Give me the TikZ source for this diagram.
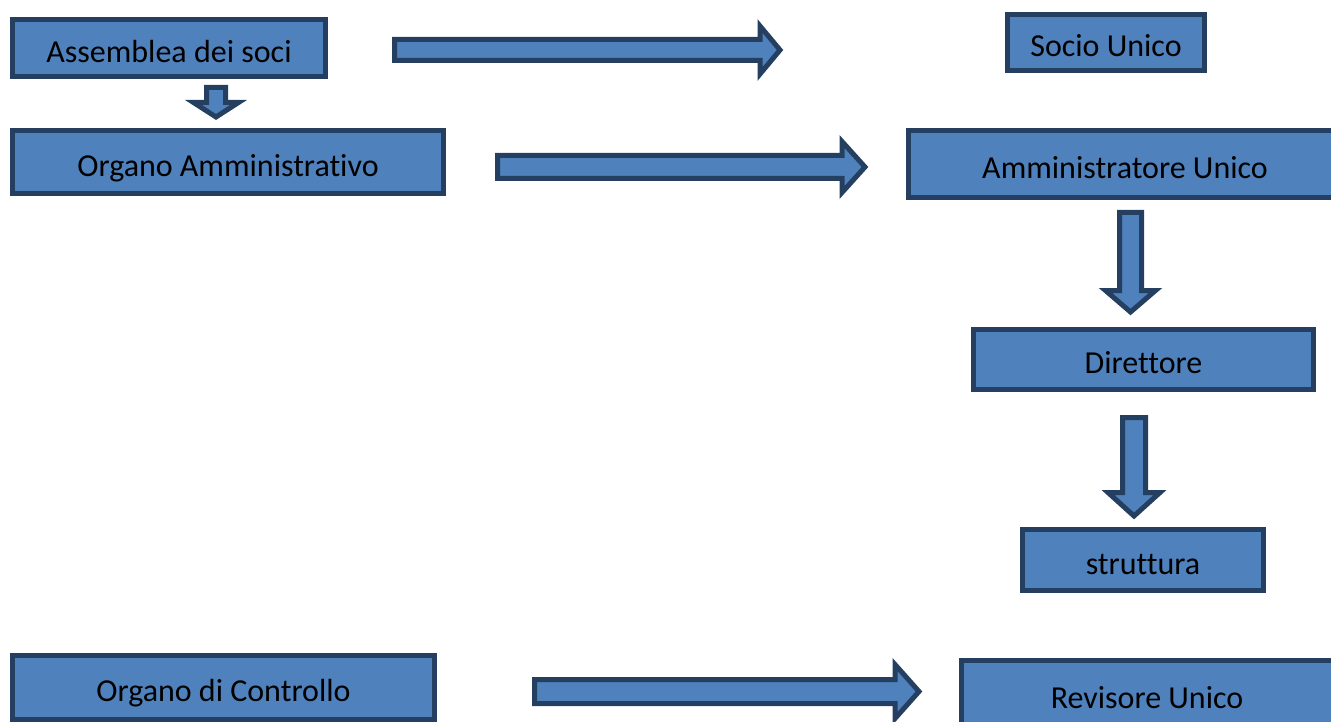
\documentclass[tikz,border=0pt]{standalone}
\usepackage{fontspec}
\setmainfont{Carlito}[Ligatures={NoCommon}]
\usetikzlibrary{calc}
\definecolor{boxfill}{HTML}{4F81BD}
\definecolor{boxline}{HTML}{243F60}
\tikzset{
  orgbox/.style={draw=boxline, fill=boxfill, line width=5pt, rectangle,
    inner sep=0pt, font=\fontsize{32}{36}\selectfont, text=black,
    text height=30pt, text depth=1.4pt},
  blockarrow/.style={draw=boxline, fill=boxfill, line width=5pt, line join=miter}
}
% horizontal block arrow: start, tip, shaft half, head half, head length
\newcommand{\hblockarrow}[5]{%
  \draw[blockarrow] ($(#1)+(0,-#3)$) -- ($(#2)+(-#5,-#3)$) -- ($(#2)+(-#5,-#4)$) -- (#2)
    -- ($(#2)+(-#5,#4)$) -- ($(#2)+(-#5,#3)$) -- ($(#1)+(0,#3)$) -- cycle;}
% vertical (downward) block arrow
\newcommand{\vblockarrow}[5]{%
  \draw[blockarrow] ($(#1)+(-#3,0)$) -- ($(#2)+(-#3,-#5)$) -- ($(#2)+(-#4,-#5)$) -- (#2)
    -- ($(#2)+(#4,-#5)$) -- ($(#2)+(#3,-#5)$) -- ($(#1)+(#3,0)$) -- cycle;}
\begin{document}
\begin{tikzpicture}[x=1pt, y=-1pt]
\useasboundingbox (0,0) rectangle (1331,722);
\clip (0,0) rectangle (1331,722);

\node[orgbox, minimum width=313pt, minimum height=57pt] (ass) at (169,48) {Assemblea dei soci};
\node[orgbox, minimum width=431pt, minimum height=63pt] (oamm) at (228,162) {Organo Amministrativo};
\node[orgbox, minimum width=197pt, minimum height=56pt] (socio) at (1106,42.5) {Socio Unico};
\node[orgbox, minimum width=433pt, minimum height=67pt] (amu) at (1125,164) {Amministratore Unico};
\node[orgbox, minimum width=340pt, minimum height=60pt] (dir) at (1143.5,359.5) {Direttore};
\node[orgbox, minimum width=241pt, minimum height=61pt] (str) at (1143,560) {struttura};
\node[orgbox, minimum width=422pt, minimum height=64pt] (octrl) at (223.5,687.5) {Organo di Controllo};
\node[orgbox, minimum width=372pt, minimum height=67pt] (rev) at (1147,694) {Revisore Unico};

% arrow end points
\coordinate (a1s) at (394.5,50);   \coordinate (a1e) at (780,50);
\coordinate (a0s) at (216,87.5);   \coordinate (a0e) at (216,117);
\coordinate (a2s) at (497.5,167);  \coordinate (a2e) at (865,167);
\coordinate (a4s) at (1130.5,212.5); \coordinate (a4e) at (1130.5,312);
\coordinate (a5s) at (1134,417.5); \coordinate (a5e) at (1134,516);
\coordinate (a3s) at (534.5,691.5); \coordinate (a3e) at (919,691.5);

\hblockarrow{a1s}{a1e}{10.5}{24}{20}
\vblockarrow{a0s}{a0e}{9.5}{22.5}{14.5}
\hblockarrow{a2s}{a2e}{11.5}{25.5}{23}
\vblockarrow{a4s}{a4e}{11}{25}{21.5}
\vblockarrow{a5s}{a5e}{11.5}{26}{23.5}
\hblockarrow{a3s}{a3e}{12}{27}{24}
\end{tikzpicture}
\end{document}
